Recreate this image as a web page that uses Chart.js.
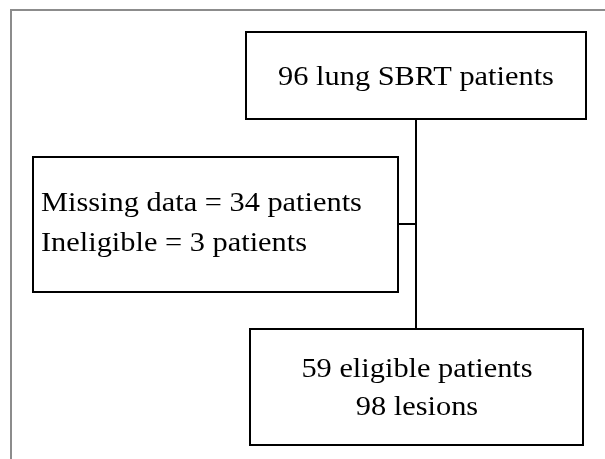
<!DOCTYPE html>
<html>
<head>
<meta charset="utf-8">
<script src="https://cdn.jsdelivr.net/npm/chart.js@4.4.0/dist/chart.umd.min.js"></script>
<style>
  html, body { margin: 0; padding: 0; background: #ffffff; }
  #wrap { width: 605px; height: 459px; position: relative; }
</style>
</head>
<body>
<div id="wrap"><canvas id="c" width="605" height="459"></canvas></div>
<script>
// ---- data ----
const stageNames   = ['lung SBRT patients', 'Missing data', 'Ineligible', 'eligible patients', 'lesions'];
const stageCounts  = [96, 34, 3, 59, 98];

// ---- text built from the data ----
const nodeTexts = [
  [stageCounts[0] + ' ' + stageNames[0]],
  [stageNames[1] + ' = ' + stageCounts[1] + ' patients', stageNames[2] + ' = ' + stageCounts[2] + ' patients'],
  [stageCounts[3] + ' ' + stageNames[3], stageCounts[4] + ' ' + stageNames[4]]
];

// ---- layout (page-pixel units, mapped through the scales) ----
const boxLayout = [
  { x0: 246, y0: 32,  x1: 586, y1: 119, align: 'center', tx: 416, ty: [85] },
  { x0: 33,  y0: 157, x1: 398, y1: 292, align: 'left',   tx: 41,  ty: [211, 251] },
  { x0: 250, y0: 329, x1: 583, y1: 445, align: 'center', tx: 417, ty: [377, 415] }
];
const connectorLayout = [
  { x0: 416, y0: 119, x1: 416, y1: 329 },
  { x0: 398, y0: 224, x1: 416, y1: 224 }
];
const textStretch = 1.085;

const flowPlugin = {
  id: 'flow',
  afterDatasetsDraw(chart) {
    const ctx = chart.ctx;
    const xs = chart.scales.x, ys = chart.scales.y;
    const X = v => xs.getPixelForValue(v);
    const Y = v => ys.getPixelForValue(v);
    ctx.save();
    ctx.strokeStyle = '#000000';
    ctx.lineWidth = 2;
    connectorLayout.forEach(c => {
      ctx.beginPath();
      ctx.moveTo(X(c.x0), Y(c.y0));
      ctx.lineTo(X(c.x1), Y(c.y1));
      ctx.stroke();
    });
    boxLayout.forEach((b, i) => {
      ctx.fillStyle = '#ffffff';
      ctx.fillRect(X(b.x0), Y(b.y0), X(b.x1) - X(b.x0), Y(b.y1) - Y(b.y0));
      ctx.strokeRect(X(b.x0), Y(b.y0), X(b.x1) - X(b.x0), Y(b.y1) - Y(b.y0));
      ctx.fillStyle = '#000000';
      ctx.font = '28px "Liberation Serif", "Times New Roman", serif';
      ctx.textAlign = b.align;
      ctx.textBaseline = 'alphabetic';
      nodeTexts[i].forEach((t, k) => {
        ctx.save();
        ctx.translate(X(b.tx), Y(b.ty[k]));
        ctx.scale(textStretch, 1);
        ctx.fillText(t, 0, 0);
        ctx.restore();
      });
    });
    ctx.restore();
  }
};

new Chart(document.getElementById('c'), {
  type: 'scatter',
  data: { datasets: [{ data: [], showLine: false }] },
  options: {
    responsive: false,
    animation: false,
    layout: { padding: { left: 11, top: 10, right: 0, bottom: 0 } },
    plugins: { legend: { display: false }, tooltip: { enabled: false } },
    scales: {
      x: {
        type: 'linear', position: 'top', min: 11, max: 605,
        grid: { display: false, drawTicks: false },
        ticks: { display: false },
        border: { display: true, color: '#8c8c8c', width: 2 }
      },
      y: {
        type: 'linear', position: 'left', reverse: true, min: 10, max: 459,
        grid: { display: false, drawTicks: false },
        ticks: { display: false },
        border: { display: true, color: '#8c8c8c', width: 2 }
      }
    }
  },
  plugins: [flowPlugin]
});
</script>
</body>
</html>
